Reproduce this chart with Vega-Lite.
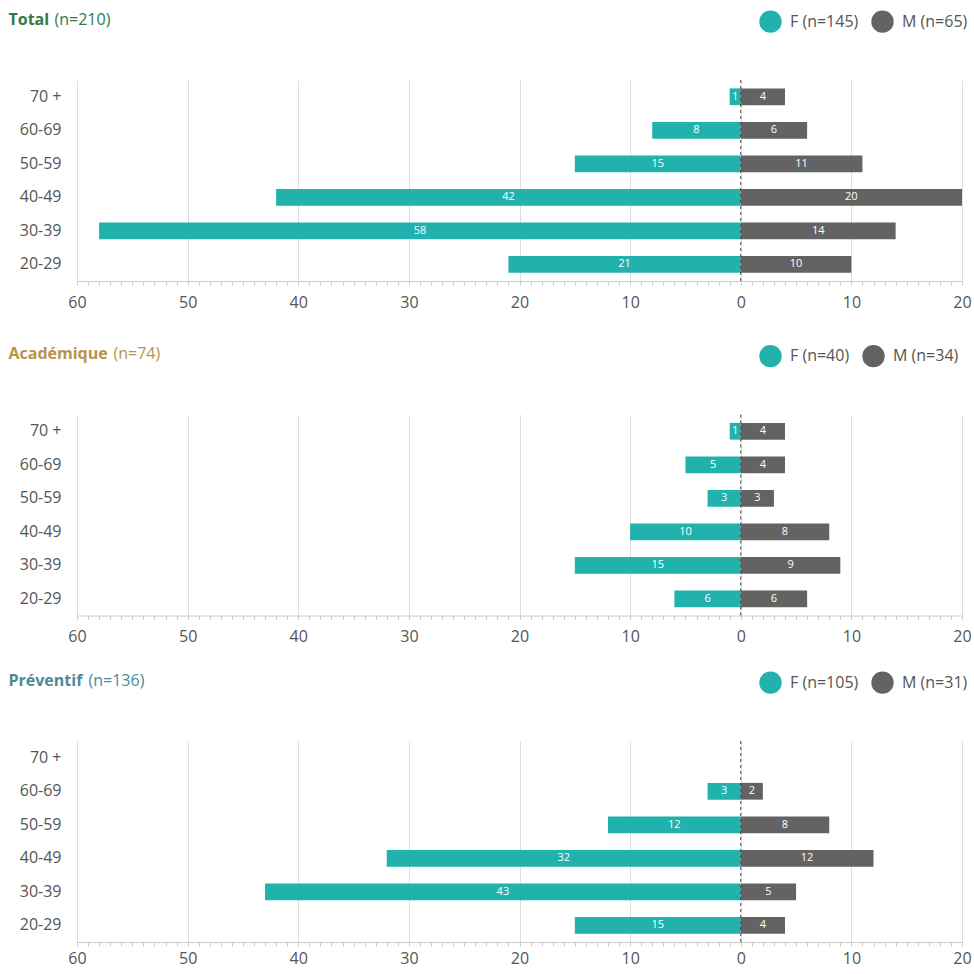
{
  "$schema": "https://vega.github.io/schema/vega-lite/v6.json",
  "background": "white",
  "padding": {"left": 8, "top": 10, "right": 0, "bottom": 6},
  "config": {"font": "Open Sans", "view": {"stroke": null}},
  "datasets": {
    "pop": [
      {"panel": "Total", "age": "70 +", "sex": "F", "n": 1},
      {"panel": "Total", "age": "60-69", "sex": "F", "n": 8},
      {"panel": "Total", "age": "50-59", "sex": "F", "n": 15},
      {"panel": "Total", "age": "40-49", "sex": "F", "n": 42},
      {"panel": "Total", "age": "30-39", "sex": "F", "n": 58},
      {"panel": "Total", "age": "20-29", "sex": "F", "n": 21},
      {"panel": "Total", "age": "70 +", "sex": "M", "n": 4},
      {"panel": "Total", "age": "60-69", "sex": "M", "n": 6},
      {"panel": "Total", "age": "50-59", "sex": "M", "n": 11},
      {"panel": "Total", "age": "40-49", "sex": "M", "n": 20},
      {"panel": "Total", "age": "30-39", "sex": "M", "n": 14},
      {"panel": "Total", "age": "20-29", "sex": "M", "n": 10},
      {"panel": "Academique", "age": "70 +", "sex": "F", "n": 1},
      {"panel": "Academique", "age": "60-69", "sex": "F", "n": 5},
      {"panel": "Academique", "age": "50-59", "sex": "F", "n": 3},
      {"panel": "Academique", "age": "40-49", "sex": "F", "n": 10},
      {"panel": "Academique", "age": "30-39", "sex": "F", "n": 15},
      {"panel": "Academique", "age": "20-29", "sex": "F", "n": 6},
      {"panel": "Academique", "age": "70 +", "sex": "M", "n": 4},
      {"panel": "Academique", "age": "60-69", "sex": "M", "n": 4},
      {"panel": "Academique", "age": "50-59", "sex": "M", "n": 3},
      {"panel": "Academique", "age": "40-49", "sex": "M", "n": 8},
      {"panel": "Academique", "age": "30-39", "sex": "M", "n": 9},
      {"panel": "Academique", "age": "20-29", "sex": "M", "n": 6},
      {"panel": "Preventif", "age": "60-69", "sex": "F", "n": 3},
      {"panel": "Preventif", "age": "50-59", "sex": "F", "n": 12},
      {"panel": "Preventif", "age": "40-49", "sex": "F", "n": 32},
      {"panel": "Preventif", "age": "30-39", "sex": "F", "n": 43},
      {"panel": "Preventif", "age": "20-29", "sex": "F", "n": 15},
      {"panel": "Preventif", "age": "60-69", "sex": "M", "n": 2},
      {"panel": "Preventif", "age": "50-59", "sex": "M", "n": 8},
      {"panel": "Preventif", "age": "40-49", "sex": "M", "n": 12},
      {"panel": "Preventif", "age": "30-39", "sex": "M", "n": 5},
      {"panel": "Preventif", "age": "20-29", "sex": "M", "n": 4}
    ],
    "zero": [{"v": 0}]
  },
  "spacing": 34.5,
  "resolve": {"scale": {"color": "independent"}, "legend": {"color": "independent"}},
  "vconcat": [
    {
      "width": 885, "height": 201,
      "data": {"name": "pop"},
      "transform": [
        {"filter": "datum.panel === 'Total'"},
        {"calculate": "datum.sex === 'F' ? -datum.n : datum.n", "as": "xv"},
        {"calculate": "datum.xv / 2", "as": "mid"}
      ],
      "layer": [
        {
          "mark": {"type": "bar"},
          "encoding": {
            "y": {"field": "age", "type": "nominal", "title": "Total",
              "scale": {"domain": ["70 +", "60-69", "50-59", "40-49", "30-39", "20-29"], "paddingInner": 0.5, "paddingOuter": 0.25},
              "axis": {"domain": false, "ticks": false, "labelPadding": 16, "labelFontSize": 16, "labelColor": "#555",
                "titleAngle": 0, "titleAlign": "left", "titleBaseline": "middle", "titleX": -69, "titleY": -61,
                "titleFontSize": 16, "titleFontWeight": "bold", "titleColor": "#2f7a45"}},
            "x": {"field": "xv", "type": "quantitative", "title": "(n=210)",
              "scale": {"domain": [-60, 20], "nice": false},
              "axis": {"values": [-60,-59,-58,-57,-56,-55,-54,-53,-52,-51,-50,-49,-48,-47,-46,-45,-44,-43,-42,-41,-40,-39,-38,-37,-36,-35,-34,-33,-32,-31,-30,-29,-28,-27,-26,-25,-24,-23,-22,-21,-20,-19,-18,-17,-16,-15,-14,-13,-12,-11,-10,-9,-8,-7,-6,-5,-4,-3,-2,-1,0,1,2,3,4,5,6,7,8,9,10,11,12,13,14,15,16,17,18,19,20],
                "tickCount": 200,
                "labelExpr": "datum.value % 10 === 0 ? format(abs(datum.value), 'd') : ''",
                "labelOverlap": false, "labelFlush": false, "labelFontSize": 16, "labelColor": "#555", "labelPadding": 9,
                "tickSize": 4, "tickColor": "#ccc", "domainColor": "#ccc",
                "grid": true, "gridColor": "#ddd",
                "gridOpacity": {"condition": {"test": "datum.value % 10 === 0", "value": 1}, "value": 0},
                "titleX": -23, "titleY": -262, "titleAlign": "left", "titleBaseline": "middle",
                "titleFontSize": 16, "titleFontWeight": "normal", "titleColor": "#2f7a45"}},
            "color": {"field": "sex", "type": "nominal",
              "scale": {"domain": ["F", "M"], "range": ["#22b2ad", "#636363"]},
              "legend": {"orient": "none", "direction": "horizontal", "legendX": 682, "legendY": -70, "padding": 0,
                "title": null, "symbolType": "circle", "symbolSize": 500, "symbolStrokeWidth": 0, "symbolOpacity": 1,
                "labelFontSize": 16, "labelColor": "#555", "labelOffset": 8, "columnPadding": 12,
                "labelExpr": "datum.label === 'F' ? 'F (n=145)' : 'M (n=65)'"}}
          }
        },
        {
          "data": {"name": "zero"},
          "mark": {"type": "rule", "color": "#444", "strokeDash": [3, 3], "strokeWidth": 1},
          "encoding": {"x": {"field": "v", "type": "quantitative", "title": "(n=210)"}}
        },
        {
          "mark": {"type": "text", "color": "white", "fontSize": 11, "align": "center", "baseline": "middle"},
          "encoding": {
            "y": {"field": "age", "type": "nominal", "title": "Total"},
            "x": {"field": "mid", "type": "quantitative", "title": "(n=210)"},
            "text": {"field": "n", "type": "quantitative"}
          }
        }
      ]
    },
    {
      "spacing": 26.5,
      "resolve": {"scale": {"color": "independent"}, "legend": {"color": "independent"}},
      "vconcat": [
        {
          "width": 885, "height": 201,
          "data": {"name": "pop"},
          "transform": [
            {"filter": "datum.panel === 'Academique'"},
            {"calculate": "datum.sex === 'F' ? -datum.n : datum.n", "as": "xv"},
            {"calculate": "datum.xv / 2", "as": "mid"}
          ],
          "layer": [
            {
              "mark": {"type": "bar"},
              "encoding": {
                "y": {"field": "age", "type": "nominal", "title": "Académique",
                  "scale": {"domain": ["70 +", "60-69", "50-59", "40-49", "30-39", "20-29"], "paddingInner": 0.5, "paddingOuter": 0.25},
                  "axis": {"domain": false, "ticks": false, "labelPadding": 16, "labelFontSize": 16, "labelColor": "#555",
                    "titleAngle": 0, "titleAlign": "left", "titleBaseline": "middle", "titleX": -69, "titleY": -61,
                    "titleFontSize": 16, "titleFontWeight": "bold", "titleColor": "#b8934a"}},
                "x": {"field": "xv", "type": "quantitative", "title": "(n=74)",
                  "scale": {"domain": [-60, 20], "nice": false},
                  "axis": {"values": [-60,-59,-58,-57,-56,-55,-54,-53,-52,-51,-50,-49,-48,-47,-46,-45,-44,-43,-42,-41,-40,-39,-38,-37,-36,-35,-34,-33,-32,-31,-30,-29,-28,-27,-26,-25,-24,-23,-22,-21,-20,-19,-18,-17,-16,-15,-14,-13,-12,-11,-10,-9,-8,-7,-6,-5,-4,-3,-2,-1,0,1,2,3,4,5,6,7,8,9,10,11,12,13,14,15,16,17,18,19,20],
                    "tickCount": 200,
                    "labelExpr": "datum.value % 10 === 0 ? format(abs(datum.value), 'd') : ''",
                    "labelOverlap": false, "labelFlush": false, "labelFontSize": 16, "labelColor": "#555", "labelPadding": 9,
                    "tickSize": 4, "tickColor": "#ccc", "domainColor": "#ccc",
                    "grid": true, "gridColor": "#ddd",
                    "gridOpacity": {"condition": {"test": "datum.value % 10 === 0", "value": 1}, "value": 0},
                    "titleX": 36, "titleY": -262, "titleAlign": "left", "titleBaseline": "middle",
                    "titleFontSize": 16, "titleFontWeight": "normal", "titleColor": "#b8934a"}},
                "color": {"field": "sex", "type": "nominal",
                  "scale": {"domain": ["F", "M"], "range": ["#22b2ad", "#636363"]},
                  "legend": {"orient": "none", "direction": "horizontal", "legendX": 682, "legendY": -70, "padding": 0,
                    "title": null, "symbolType": "circle", "symbolSize": 500, "symbolStrokeWidth": 0, "symbolOpacity": 1,
                    "labelFontSize": 16, "labelColor": "#555", "labelOffset": 8, "columnPadding": 12,
                    "labelExpr": "datum.label === 'F' ? 'F (n=40)' : 'M (n=34)'"}}
              }
            },
            {
              "data": {"name": "zero"},
              "mark": {"type": "rule", "color": "#444", "strokeDash": [3, 3], "strokeWidth": 1},
              "encoding": {"x": {"field": "v", "type": "quantitative", "title": "(n=74)"}}
            },
            {
              "mark": {"type": "text", "color": "white", "fontSize": 11, "align": "center", "baseline": "middle"},
              "encoding": {
                "y": {"field": "age", "type": "nominal", "title": "Académique"},
                "x": {"field": "mid", "type": "quantitative", "title": "(n=74)"},
                "text": {"field": "n", "type": "quantitative"}
              }
            }
          ]
        },
        {
          "width": 885, "height": 201,
          "data": {"name": "pop"},
          "transform": [
            {"filter": "datum.panel === 'Preventif'"},
            {"calculate": "datum.sex === 'F' ? -datum.n : datum.n", "as": "xv"},
            {"calculate": "datum.xv / 2", "as": "mid"}
          ],
          "layer": [
            {
              "mark": {"type": "bar"},
              "encoding": {
                "y": {"field": "age", "type": "nominal", "title": "Préventif",
                  "scale": {"domain": ["70 +", "60-69", "50-59", "40-49", "30-39", "20-29"], "paddingInner": 0.5, "paddingOuter": 0.25},
                  "axis": {"domain": false, "ticks": false, "labelPadding": 16, "labelFontSize": 16, "labelColor": "#555",
                    "titleAngle": 0, "titleAlign": "left", "titleBaseline": "middle", "titleX": -69, "titleY": -61,
                    "titleFontSize": 16, "titleFontWeight": "bold", "titleColor": "#4a8a96"}},
                "x": {"field": "xv", "type": "quantitative", "title": "(n=136)",
                  "scale": {"domain": [-60, 20], "nice": false},
                  "axis": {"values": [-60,-59,-58,-57,-56,-55,-54,-53,-52,-51,-50,-49,-48,-47,-46,-45,-44,-43,-42,-41,-40,-39,-38,-37,-36,-35,-34,-33,-32,-31,-30,-29,-28,-27,-26,-25,-24,-23,-22,-21,-20,-19,-18,-17,-16,-15,-14,-13,-12,-11,-10,-9,-8,-7,-6,-5,-4,-3,-2,-1,0,1,2,3,4,5,6,7,8,9,10,11,12,13,14,15,16,17,18,19,20],
                    "tickCount": 200,
                    "labelExpr": "datum.value % 10 === 0 ? format(abs(datum.value), 'd') : ''",
                    "labelOverlap": false, "labelFlush": false, "labelFontSize": 16, "labelColor": "#555", "labelPadding": 4,
                    "tickSize": 4, "tickColor": "#ccc", "domainColor": "#ccc",
                    "grid": true, "gridColor": "#ddd",
                    "gridOpacity": {"condition": {"test": "datum.value % 10 === 0", "value": 1}, "value": 0},
                    "titleX": 11, "titleY": -262, "titleAlign": "left", "titleBaseline": "middle",
                    "titleFontSize": 16, "titleFontWeight": "normal", "titleColor": "#4a8a96"}},
                "color": {"field": "sex", "type": "nominal",
                  "scale": {"domain": ["F", "M"], "range": ["#22b2ad", "#636363"]},
                  "legend": {"orient": "none", "direction": "horizontal", "legendX": 682, "legendY": -70, "padding": 0,
                    "title": null, "symbolType": "circle", "symbolSize": 500, "symbolStrokeWidth": 0, "symbolOpacity": 1,
                    "labelFontSize": 16, "labelColor": "#555", "labelOffset": 8, "columnPadding": 12,
                    "labelExpr": "datum.label === 'F' ? 'F (n=105)' : 'M (n=31)'"}}
              }
            },
            {
              "data": {"name": "zero"},
              "mark": {"type": "rule", "color": "#444", "strokeDash": [3, 3], "strokeWidth": 1},
              "encoding": {"x": {"field": "v", "type": "quantitative", "title": "(n=136)"}}
            },
            {
              "mark": {"type": "text", "color": "white", "fontSize": 11, "align": "center", "baseline": "middle"},
              "encoding": {
                "y": {"field": "age", "type": "nominal", "title": "Préventif"},
                "x": {"field": "mid", "type": "quantitative", "title": "(n=136)"},
                "text": {"field": "n", "type": "quantitative"}
              }
            }
          ]
        }
      ]
    }
  ]
}
